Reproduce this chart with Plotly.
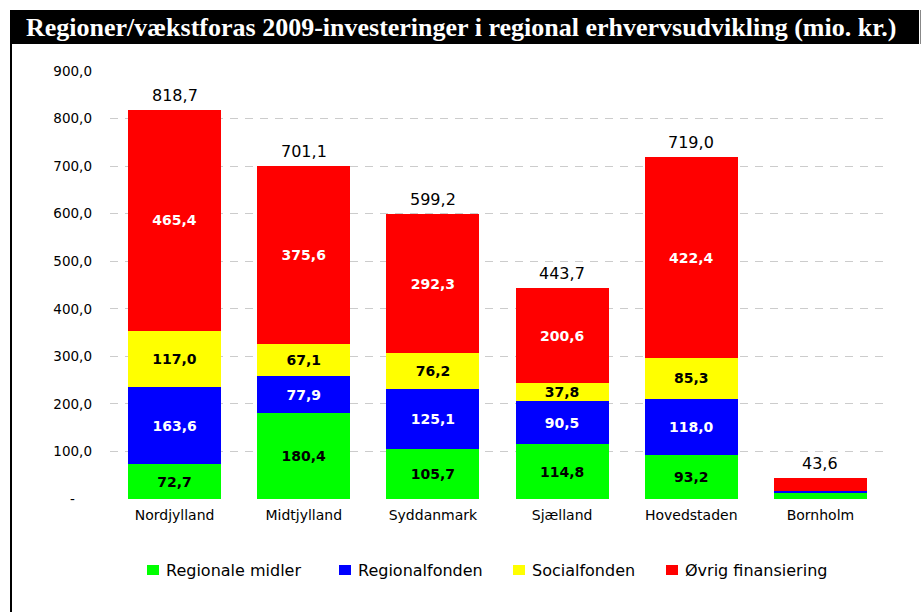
import plotly.graph_objects as go

regions = ["Nordjylland", "Midtjylland", "Syddanmark", "Sjælland", "Hovedstaden", "Bornholm"]
regionale_midler = [72.7, 180.4, 105.7, 114.8, 93.2, 12.8]
regionalfonden = [163.6, 77.9, 125.1, 90.5, 118.0, 4.6]
socialfonden = [117.0, 67.1, 76.2, 37.8, 85.3, 0.0]
oevrig = [465.4, 375.6, 292.3, 200.6, 422.4, 26.2]
totals = [818.7, 701.1, 599.2, 443.7, 719.0, 43.6]
show_inner = [True, True, True, True, True, False]

tick_vals = [0, 100, 200, 300, 400, 500, 600, 700, 800, 900]
tick_text = ["-\u00a0\u00a0\u00a0\u00a0", "100,0", "200,0", "300,0", "400,0", "500,0",
             "600,0", "700,0", "800,0", "900,0"]

title_text = "Regioner/vækstforas 2009-investeringer i regional erhvervsudvikling (mio. kr.)"

FONT = "DejaVu Sans"

W, H = 923, 612
L, R, T, B = 110, 38, 71, 113
PW, PH = W - L - R, H - T - B


def px(x):
    return (x - L) / PW


def py(y):
    return (H - B - y) / PH


def fmt(v):
    return f"{v:.1f}".replace(".", ",")


series = [
    ("Regionale midler", regionale_midler, "#00FF00", "black"),
    ("Regionalfonden", regionalfonden, "#0000FF", "white"),
    ("Socialfonden", socialfonden, "#FFFF00", "black"),
    ("Øvrig finansiering", oevrig, "#FF0000", "white"),
]
legend_sq_x = [147, 339, 513, 666]

fig = go.Figure()
for name, vals, color, tcolor in series:
    labels = [fmt(v) if s else "" for v, s in zip(vals, show_inner)]
    fig.add_trace(go.Bar(
        x=regions, y=vals, name=name,
        marker=dict(color=color, line=dict(width=0)),
        text=labels, textposition="inside", insidetextanchor="middle",
        textangle=0, constraintext="none",
        textfont=dict(family=FONT, size=14, color=tcolor, weight="bold"),
        hoverinfo="skip", showlegend=False,
    ))

for r, t in zip(regions, totals):
    fig.add_annotation(x=r, y=t, text=fmt(t), showarrow=False, yanchor="bottom",
                       yshift=3, font=dict(family=FONT, size=16, color="black"))

shapes = []
# legend (manual, to match the tight symbol/text spacing)
for (name, vals, color, tcolor), sx in zip(series, legend_sq_x):
    shapes.append(dict(type="rect", xref="paper", yref="paper",
                       x0=px(sx), x1=px(sx + 12), y0=py(575), y1=py(565),
                       fillcolor=color, line=dict(width=0)))
    fig.add_annotation(xref="paper", yref="paper", x=px(sx + 17), y=py(570),
                       xanchor="left", yanchor="middle", text=name, showarrow=False,
                       font=dict(family=FONT, size=16, color="black"))

# title bar and frame
shapes.append(dict(type="rect", xref="paper", yref="paper", x0=px(11), x1=px(919),
                   y0=py(44), y1=py(10), fillcolor="black", line=dict(width=0)))
shapes.append(dict(type="line", xref="paper", yref="paper", x0=px(11), x1=px(11),
                   y0=py(612), y1=py(10), line=dict(color="black", width=2)))
shapes.append(dict(type="line", xref="paper", yref="paper", x0=px(920.5), x1=px(920.5),
                   y0=py(44), y1=py(10), line=dict(color="#888888", width=1)))
fig.add_annotation(xref="paper", yref="paper", x=px(24), y=py(27), xanchor="left",
                   yanchor="middle", text="<b>" + title_text + "</b>", showarrow=False,
                   font=dict(family="Liberation Serif", size=26, color="white"))

fig.update_layout(
    width=W, height=H,
    barmode="stack", bargap=0.28,
    paper_bgcolor="white", plot_bgcolor="white",
    margin=dict(l=L, r=R, t=T, b=B, autoexpand=False),
    showlegend=False,
    xaxis=dict(showline=False, ticks="", ticklabelstandoff=6,
               tickfont=dict(family=FONT, size=14, color="black")),
    yaxis=dict(range=[0, 900], tickvals=tick_vals, ticktext=tick_text,
               showgrid=True, gridcolor="#cccccc", griddash="8px,7px", gridwidth=1.3,
               zeroline=False, ticks="", ticklabelstandoff=17,
               tickfont=dict(family=FONT, size=13.5, color="black")),
    shapes=shapes,
)

fig.write_html("out.html", config={"displayModeBar": False},
               post_script="document.body.style.margin='0';")
